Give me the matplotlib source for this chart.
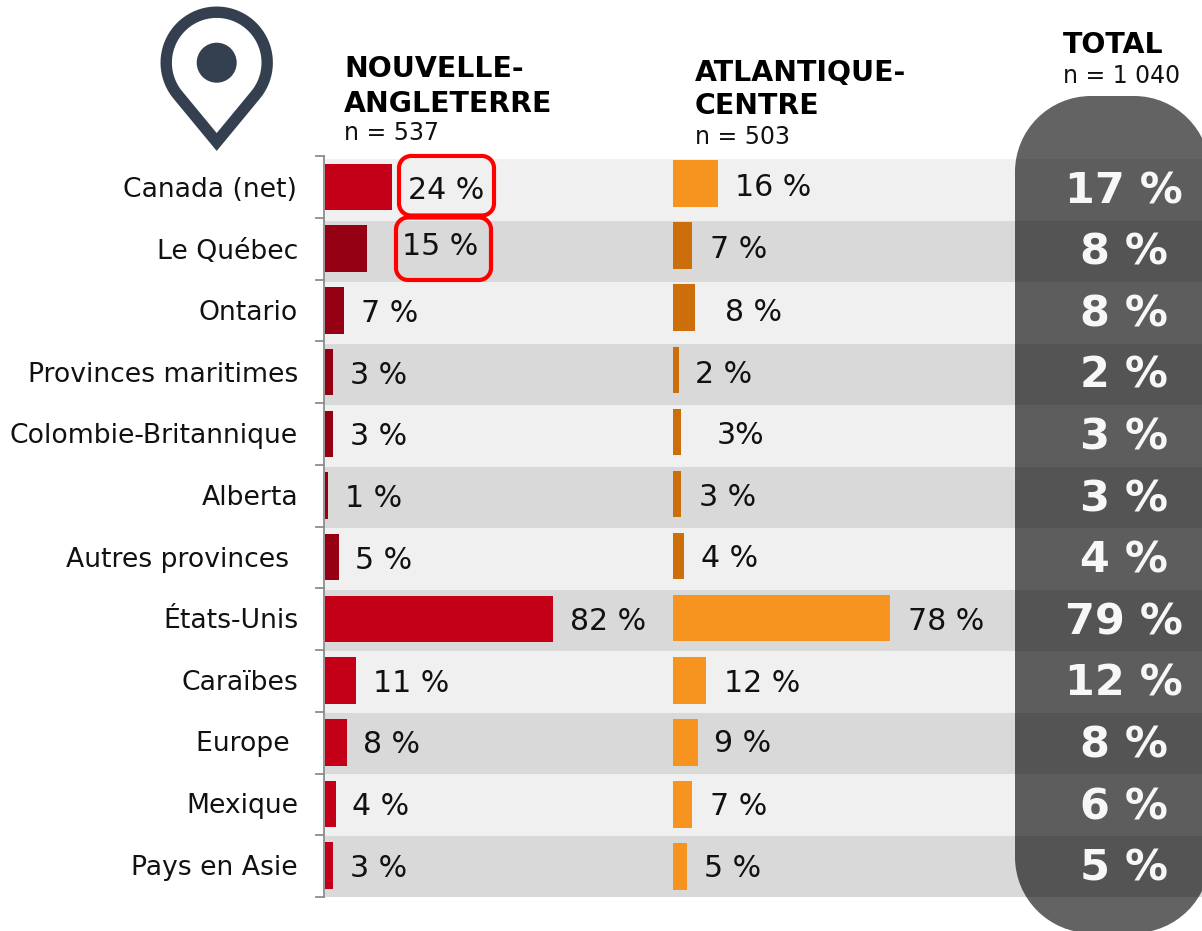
import numpy as np
import matplotlib
matplotlib.use("Agg")
import matplotlib.pyplot as plt
from matplotlib.patches import Circle, PathPatch
from matplotlib.path import Path

categories = ["Canada (net)", "Le Québec", "Ontario", "Provinces maritimes",
              "Colombie-Britannique", "Alberta", "Autres provinces ", "États-Unis",
              "Caraïbes", "Europe ", "Mexique", "Pays en Asie"]
nouvelle_angleterre = [24, 15, 7, 3, 3, 1, 5, 82, 11, 8, 4, 3]
atlantique_centre = [16, 7, 8, 2, 3, 3, 4, 78, 12, 9, 7, 5]
total = [17, 8, 8, 2, 3, 3, 4, 79, 12, 8, 6, 5]
ac_suffix = [" %", " %", " %", " %", "%", " %", " %", " %", " %", " %", " %", " %"]

# layout (pixels)
W, H = 1202, 931
TOP, BOTTOM = 159.0, 897.0
ROW = (BOTTOM - TOP) / 12
PX_PER_PCT = 2.785
NE_X0, AC_X0 = 325, 673
ne_label_x = [408, 402, 361, 350, 350, 345, 355, 570, 373, 363, 352, 350]
ac_label_x = [735, 710, 725, 695, 717, 699, 701, 908, 724, 714, 710, 704]
ne_dy = [0, -5.5, 0, 0, 0, 0, 0, 0, 0, 0, 0, 0]
ac_dy = [-3, -2.6, -1, -1, -1, -1, -2, 0, 0, -1, 0, 0]
label_right = [297, 298, 298, 298, 298, 298, 298, 298, 298, 298, 298, 298]
STEP = 61.6

plt.rcParams['font.family'] = ['DejaVu Sans']
fig = plt.figure(figsize=(W / 100, H / 100), dpi=100)
bg = fig.add_axes([0, 0, 1, 1])
bg.set_xlim(0, W)
bg.set_ylim(H, 0)
bg.axis('off')


def round_rect(x0, y0, x1, y1, r):
    k = r * (1 - 0.5523)
    verts = [(x0 + r, y0), (x1 - r, y0), (x1 - k, y0), (x1, y0 + k), (x1, y0 + r),
             (x1, y1 - r), (x1, y1 - k), (x1 - k, y1), (x1 - r, y1),
             (x0 + r, y1), (x0 + k, y1), (x0, y1 - k), (x0, y1 - r),
             (x0, y0 + r), (x0, y0 + k), (x0 + k, y0), (x0 + r, y0), (x0 + r, y0)]
    codes = [Path.MOVETO, Path.LINETO, Path.CURVE4, Path.CURVE4, Path.CURVE4,
             Path.LINETO, Path.CURVE4, Path.CURVE4, Path.CURVE4,
             Path.LINETO, Path.CURVE4, Path.CURVE4, Path.CURVE4,
             Path.LINETO, Path.CURVE4, Path.CURVE4, Path.CURVE4, Path.CLOSEPOLY]
    return Path(verts, codes)


for i in range(12):
    bg.fill_between([325, W], TOP + ROW * i, TOP + ROW * (i + 1),
                    color='#F0F0F0' if i % 2 == 0 else '#D9D9D9', lw=0, zorder=1)


# bars
def bar_axes(x0, values, normal, dark, first_center, step):
    top = first_center - step / 2
    ax = fig.add_axes([x0 / W, 1 - (top + 12 * step) / H, PX_PER_PCT * 100 / W, 12 * step / H])
    ax.set_xlim(0, 100)
    ax.set_ylim(11.5, -0.5)
    ax.axis('off')
    ax.patch.set_alpha(0)
    ax.barh(range(12), values, height=46.5 / step,
            color=[dark if 1 <= i <= 6 else normal for i in range(12)], lw=0)
    return ax


bar_axes(NE_X0, nouvelle_angleterre, '#C30018', '#960014', 187, 61.7)
bar_axes(AC_X0, atlantique_centre, '#F79420', '#CC6F0A', 183.5, 62.1)

# left axis
bg.plot([324, 324], [156, 897], color='#8C8C8C', lw=1.3, zorder=3)
for i in range(13):
    bg.plot([315.5, 324], [156 + (897 - 156) / 12 * i] * 2, color='#8C8C8C', lw=1.3, zorder=3)

# text
FS = 19.2
VAL = 21.6
for i, c in enumerate(categories):
    bg.text(label_right[i], 197 + STEP * i, c, ha='right', va='baseline', fontsize=FS,
            color='#111111', zorder=6)
    bg.text(ne_label_x[i], 199 + STEP * i + ne_dy[i], f"{nouvelle_angleterre[i]} %", ha='left',
            va='baseline', fontsize=VAL, color='#111111', zorder=6)
    bg.text(ac_label_x[i], 199 + STEP * i + ac_dy[i], f"{atlantique_centre[i]}{ac_suffix[i]}", ha='left',
            va='baseline', fontsize=VAL, color='#111111', zorder=6)

# total pill
bg.add_patch(PathPatch(round_rect(1015, 96, 1210, 933, 76), fc='black', alpha=0.61, lw=0, zorder=4))
for i, v in enumerate(total):
    bg.text(1124, 203 + STEP * i, f"{v} %", ha='center', va='baseline', fontsize=31, fontweight='bold',
            color='#F7F7F7', zorder=6)

# red boxes
for x0, y0, x1, y1 in [(399, 156, 494, 215.5), (396, 217.5, 491, 280)]:
    bg.add_patch(PathPatch(round_rect(x0, y0, x1, y1, 12), fc='none', ec='#FF0000', lw=3.0, zorder=5))

# headings
HEAD = 20.4
SUB = 17
for x, y, s in [(344, 77, "NOUVELLE-"), (344, 111.5, "ANGLETERRE"),
                (695, 81, "ATLANTIQUE-"), (695, 114, "CENTRE"), (1063, 53, "TOTAL")]:
    bg.text(x, y, s, ha='left', va='baseline', color='black', fontsize=HEAD, fontweight='bold', zorder=6)
for x, y, s in [(344, 140, "n = 537"), (695, 144, "n = 503"), (1063, 83, "n = 1 040")]:
    bg.text(x, y, s, ha='left', va='baseline', color='#111111', fontsize=SUB, zorder=6)

# location pin
cx, cy, r = 216.7, 62.7, 50.5
t = np.radians(np.linspace(140, 400, 60))
pts = [(cx + r * np.cos(a), cy + r * np.sin(a)) for a in t]
pts = pts + [(cx, 142.0)]
pts = pts + [pts[0]]
codes = [Path.MOVETO] + [Path.LINETO] * (len(pts) - 2) + [Path.CLOSEPOLY]
pin = '#34404F'
bg.add_patch(PathPatch(Path(pts, codes), fc='none', ec=pin, lw=8.2, joinstyle='miter', zorder=3))
bg.add_patch(Circle((cx, cy), 20, fc=pin, lw=0, zorder=3))

fig.savefig('out.png', dpi=100)
